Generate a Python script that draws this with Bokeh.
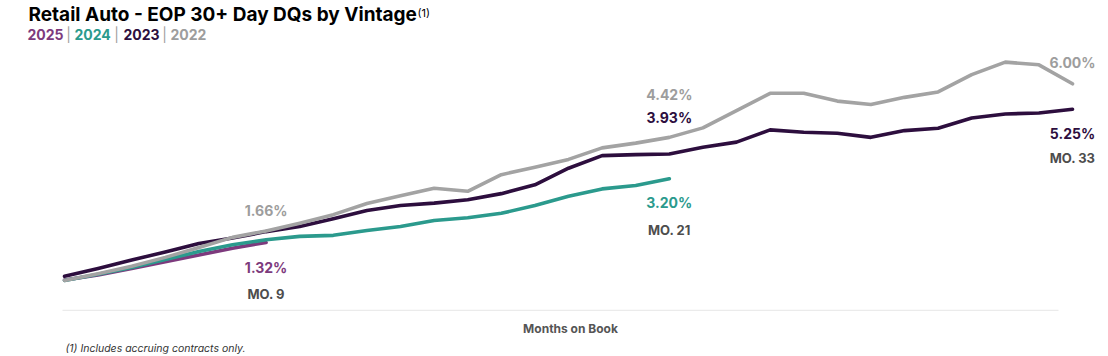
from bokeh.plotting import figure
from bokeh.models import Range1d, Label, BoxAnnotation, ColumnDataSource
from bokeh.embed import file_html
from bokeh.resources import INLINE

# ---- data (30+ day DQ %, by months on book) ----
months_2022 = list(range(3, 34))
dq_2022 = [0.20, 0.40, 0.62, 0.88, 1.17, 1.47, 1.66, 1.89, 2.14, 2.47, 2.70, 2.92, 2.83,
           3.32, 3.54, 3.77, 4.11, 4.25, 4.42, 4.70, 5.21, 5.72, 5.72, 5.49, 5.39, 5.60,
           5.76, 6.27, 6.64, 6.56, 6.00]
months_2023 = list(range(3, 34))
dq_2023 = [0.32, 0.55, 0.80, 1.04, 1.29, 1.45, 1.64, 1.79, 2.02, 2.26, 2.41, 2.48, 2.58,
           2.76, 3.02, 3.51, 3.88, 3.91, 3.93, 4.13, 4.28, 4.64, 4.57, 4.54, 4.42, 4.62,
           4.69, 4.99, 5.11, 5.14, 5.25]
months_2024 = list(range(3, 22))
dq_2024 = [0.20, 0.38, 0.58, 0.82, 1.05, 1.25, 1.40, 1.50, 1.53, 1.67, 1.79, 1.97, 2.05,
           2.18, 2.41, 2.68, 2.90, 3.00, 3.20]
months_2025 = list(range(3, 10))
dq_2025 = [0.21, 0.36, 0.55, 0.75, 0.95, 1.15, 1.32]

vintages = ["2025", "2024", "2023", "2022"]
colors = {"2025": "#7d3a7d", "2024": "#2b9a8d", "2023": "#2d0e3e", "2022": "#a3a3a3"}
label_colors = {"2025": "#7d3a7d", "2024": "#2b9a8d", "2023": "#2d0e3e", "2022": "#9d9d9d"}
series = {"2025": (months_2025, dq_2025), "2024": (months_2024, dq_2024),
          "2023": (months_2023, dq_2023), "2022": (months_2022, dq_2022)}

title_text = "Retail Auto - EOP 30+ Day DQs by Vintage"
x_axis_title = "Months on Book"
footnote = "(1) Includes accruing contracts only."

FONT = "Inter"
W, H = 1108, 356

p = figure(width=W, height=H, output_backend="svg", toolbar_location=None,
           x_range=Range1d(1.0952, 34.071), y_range=Range1d(-2.044, 8.457),
           x_axis_type=None, y_axis_type=None, min_border=0)
p.title.visible = False
p.outline_line_color = None
p.background_fill_color = "white"
p.border_fill_color = "white"

# faint baseline
p.add_layout(BoxAnnotation(left=62, right=1058, bottom=45.5, top=46.8,
                           left_units="screen", right_units="screen",
                           bottom_units="screen", top_units="screen",
                           fill_color="#ebebeb", fill_alpha=1.0, line_color=None))

for v in vintages:
    xs, ys = series[v]
    src = ColumnDataSource(dict(x=xs, y=ys))
    p.line("x", "y", source=src, line_color=colors[v], line_width=3.6,
           line_join="round", line_cap="round")

def lab(text, x, y, color, size="14px", style="bold", xu="data", align="center",
        baseline="middle", font=FONT):
    p.add_layout(Label(x=x, y=y, x_units=xu, y_units="screen", text=text,
                       text_color=color, text_font=font, text_font_size=size,
                       text_font_style=style, text_align=align, text_baseline=baseline))

def pct(v):
    return f"{v:.2f}%"

MO_COLOR = "#4d4d4d"
# end-of-series labels
lab(pct(dq_2022[months_2022.index(9)]), 9, 146, label_colors["2022"])
lab(pct(dq_2025[-1]), months_2025[-1], 89, label_colors["2025"])
lab(f"MO. {months_2025[-1]}", months_2025[-1], 63, MO_COLOR, size="13px")

lab(pct(dq_2022[months_2022.index(21)]), 21, 262, label_colors["2022"])
lab(pct(dq_2023[months_2023.index(21)]), 21, 239, label_colors["2023"])
lab(pct(dq_2024[-1]), months_2024[-1], 154, label_colors["2024"])
lab(f"MO. {months_2024[-1]}", months_2024[-1], 127, MO_COLOR, size="13px")

lab(pct(dq_2022[-1]), months_2022[-1], 294, label_colors["2022"])
lab(pct(dq_2023[-1]), months_2023[-1], 223, label_colors["2023"])
lab(f"MO. {months_2023[-1]}", months_2023[-1], 199, MO_COLOR, size="13px")

# title and legend line
lab(title_text, 28, 342, "#000000", size="19px", xu="screen", align="left")
lab("(1)", 417, 344, "#000000", size="11px", style="normal", xu="screen", align="left")
legend_x = {"2025": 27, "2024": 74, "2023": 123, "2022": 170}
sep_x = [68, 116, 164]
for v in vintages:
    lab(v, legend_x[v], 322, label_colors[v], size="14px", xu="screen", align="left")
for sx in sep_x:
    lab("|", sx, 322, "#9d9d9d", size="14px", style="normal", xu="screen", align="center")

lab(x_axis_title, 570, 28, "#555555", size="12px", xu="screen", align="center")
lab(footnote, 65, 8, "#333333", size="10.5px", style="italic", xu="screen", align="left")

open("out.html", "w").write(file_html(p, INLINE))
